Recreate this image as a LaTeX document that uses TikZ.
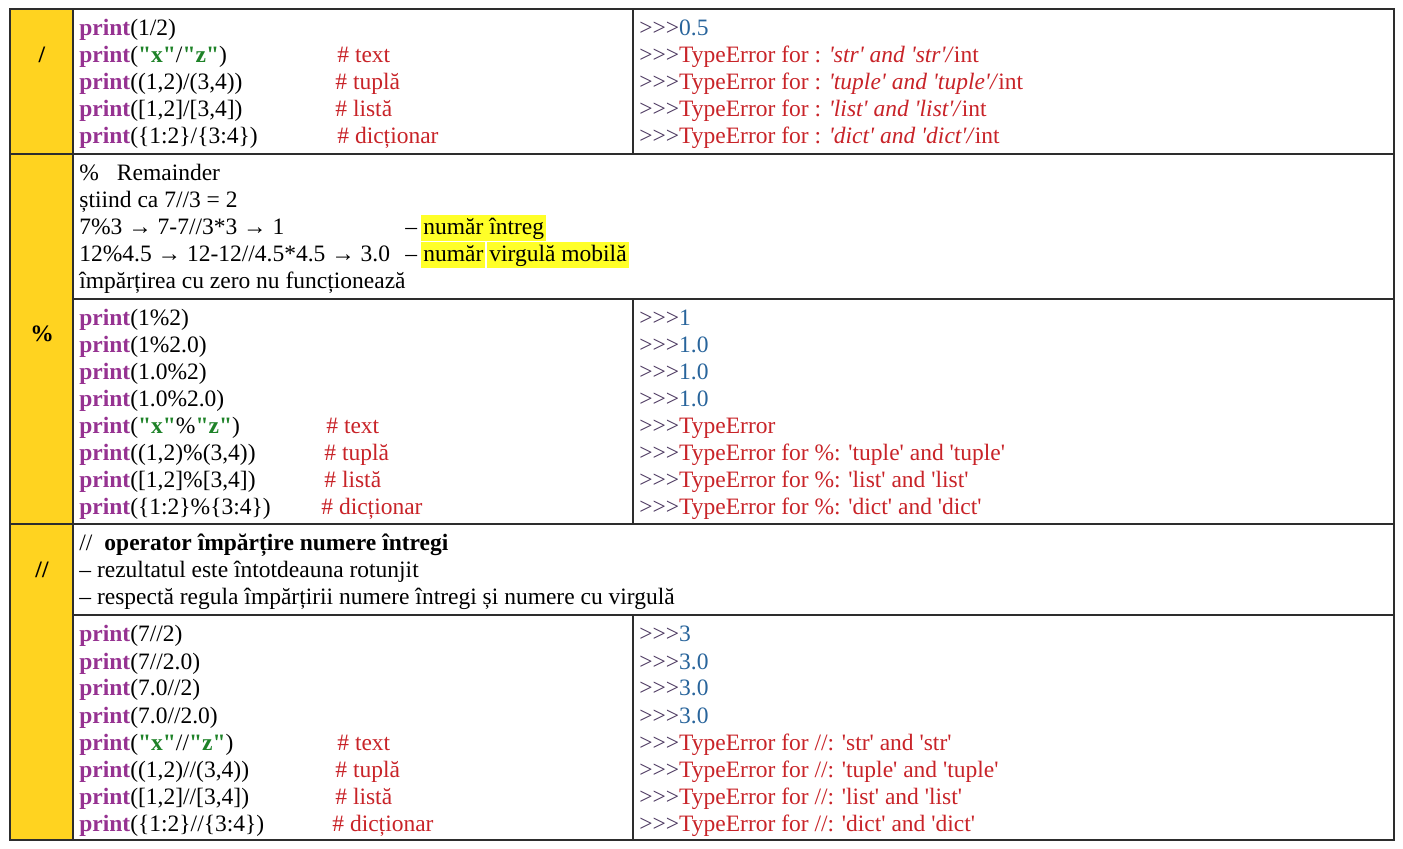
\documentclass[tikz,border=0pt]{standalone}
\usepackage{fontspec}
\usepackage{xcolor}
\newfontfamily\pyfont{Liberation Serif}
\definecolor{opyellow}{RGB}{255,211,32}
\definecolor{hilite}{RGB}{255,255,40}
\definecolor{kwpurple}{RGB}{150,50,145}
\definecolor{strgreen}{RGB}{30,130,40}
\definecolor{errred}{RGB}{200,35,40}
\definecolor{valblue}{RGB}{40,100,155}
\definecolor{prompt}{RGB}{75,55,95}
\definecolor{gridline}{RGB}{45,45,45}
\newcommand{\pyprint}{\textbf{\color{kwpurple}print}}
\newcommand{\pystr}[1]{\textbf{\color{strgreen}"#1"}}
\newcommand{\pyout}{\textcolor{prompt}{>>>}}
\newcommand{\pyval}[1]{\pyout\textcolor{valblue}{#1}}
\newcommand{\pyerr}[1]{\pyout\textcolor{errred}{#1}}
\tikzset{
	line/.style={anchor=base west, inner sep=0pt, font=\pyfont\fontsize{11.75}{14}\selectfont},
	comment/.style={line, text=errred},
	oplabel/.style={font=\pyfont\bfseries\fontsize{11.75}{14}\selectfont, inner sep=0pt},
	marked/.style={line, fill=hilite, inner xsep=1pt, inner ysep=0pt, text height=10pt, text depth=3pt},
	grid/.style={draw=gridline, line width=0.75pt}
}
\begin{document}
\begin{tikzpicture}[x=0.5pt, y=-0.5pt]
	\useasboundingbox (0,0) rectangle (1403,849);
	\fill[opyellow] (10,9) rectangle (73,840);
	\draw[grid] (10,9) rectangle (1394,840);
	\draw[grid] (73,9) -- (73,840);
	\draw[grid] (10,154) -- (1394,154);
	\draw[grid] (10,524) -- (1394,524);
	\draw[grid] (73,299) -- (1394,299);
	\draw[grid] (73,615) -- (1394,615);
	\draw[grid] (633,9) -- (633,154);
	\draw[grid] (633,299) -- (633,524);
	\draw[grid] (633,615) -- (633,840);

	\node[oplabel] (div) at (42,55) {/};
	\node[oplabel] (mod) at (42,334) {\%};
	\node[oplabel] (floordiv) at (42,570) {//};

	% operator /
	\foreach \t [count=\i] in {{\pyprint(1/2)}, {\pyprint(\pystr{x}/\pystr{z})},
		{\pyprint((1,2)/(3,4))}, {\pyprint([1,2]/[3,4])}, {\pyprint(\{1:2\}/\{3:4\})}}
		\node[line] (divcode\i) at (79,{36+27*(\i-1)}) {\t};
	\foreach \k/\x/\t in {2/337/text, 3/335/tuplă, 4/335/listă, 5/337/dicționar}
		\node[comment] (divnote\k) at (\x,{36+27*(\k-1)}) {\# \t};
	\foreach \t [count=\i] in {{\pyval{0.5}},
		{\pyerr{TypeError for : \textit{'str' and 'str'/}int}},
		{\pyerr{TypeError for : \textit{'tuple' and 'tuple'/}int}},
		{\pyerr{TypeError for : \textit{'list' and 'list'/}int}},
		{\pyerr{TypeError for : \textit{'dict' and 'dict'/}int}}}
		\node[line] (divout\i) at (639,{36+27*(\i-1)}) {\t};

	% operator %
	\node[line] (modinfo1) at (79,181) {\%\hspace{9pt}Remainder};
	\node[line] (modinfo2) at (79,208) {știind ca 7//3 = 2};
	\node[line] (modinfo3) at (79,235) {7\%3 → 7-7//3*3 → 1};
	\node[line] (modinfo4) at (79,262) {12\%4.5 → 12-12//4.5*4.5 → 3.0};
	\node[line] (modinfo5) at (79,289) {împărțirea cu zero nu funcționează};
	\node[line] (dash3) at (405,235) {–};
	\node[line] (dash4) at (405,262) {–};
	\node[marked] (int) at (421,235) {număr întreg};
	\node[marked] (num) at (421,262) {număr};
	\node[marked] (float) at (487,262) {virgulă mobilă};
	\foreach \t [count=\i] in {{\pyprint(1\%2)}, {\pyprint(1\%2.0)}, {\pyprint(1.0\%2)},
		{\pyprint(1.0\%2.0)}, {\pyprint(\pystr{x}\%\pystr{z})}, {\pyprint((1,2)\%(3,4))},
		{\pyprint([1,2]\%[3,4])}, {\pyprint(\{1:2\}\%\{3:4\})}}
		\node[line] (modcode\i) at (79,{326+27*(\i-1)}) {\t};
	\foreach \k/\x/\t in {5/326/text, 6/324/tuplă, 7/324/listă, 8/321/dicționar}
		\node[comment] (modnote\k) at (\x,{326+27*(\k-1)}) {\# \t};
	\foreach \t [count=\i] in {{\pyval{1}}, {\pyval{1.0}}, {\pyval{1.0}}, {\pyval{1.0}},
		{\pyerr{TypeError}},
		{\pyerr{TypeError for \%: 'tuple' and 'tuple'}},
		{\pyerr{TypeError for \%: 'list' and 'list'}},
		{\pyerr{TypeError for \%: 'dict' and 'dict'}}}
		\node[line] (modout\i) at (639,{326+27*(\i-1)}) {\t};

	% operator //
	\node[line] (fdinfo1) at (79,551) {//\hspace{6pt}\textbf{operator împărțire numere întregi}};
	\node[line] (fdinfo2) at (79,578) {– rezultatul este întotdeauna rotunjit};
	\node[line] (fdinfo3) at (79,605) {– respectă regula împărțirii numere întregi și numere cu virgulă};
	\foreach \t [count=\i] in {{\pyprint(7//2)}, {\pyprint(7//2.0)}, {\pyprint(7.0//2)},
		{\pyprint(7.0//2.0)}, {\pyprint(\pystr{x}//\pystr{z})}, {\pyprint((1,2)//(3,4))},
		{\pyprint([1,2]//[3,4])}, {\pyprint(\{1:2\}//\{3:4\})}}
		\node[line] (fdcode\i) at (79,{642+27*(\i-1)}) {\t};
	\foreach \k/\x/\t in {5/337/text, 6/335/tuplă, 7/335/listă, 8/332/dicționar}
		\node[comment] (fdnote\k) at (\x,{642+27*(\k-1)}) {\# \t};
	\foreach \t [count=\i] in {{\pyval{3}}, {\pyval{3.0}}, {\pyval{3.0}}, {\pyval{3.0}},
		{\pyerr{TypeError for //: 'str' and 'str'}},
		{\pyerr{TypeError for //: 'tuple' and 'tuple'}},
		{\pyerr{TypeError for //: 'list' and 'list'}},
		{\pyerr{TypeError for //: 'dict' and 'dict'}}}
		\node[line] (fdout\i) at (639,{642+27*(\i-1)}) {\t};
\end{tikzpicture}
\end{document}
